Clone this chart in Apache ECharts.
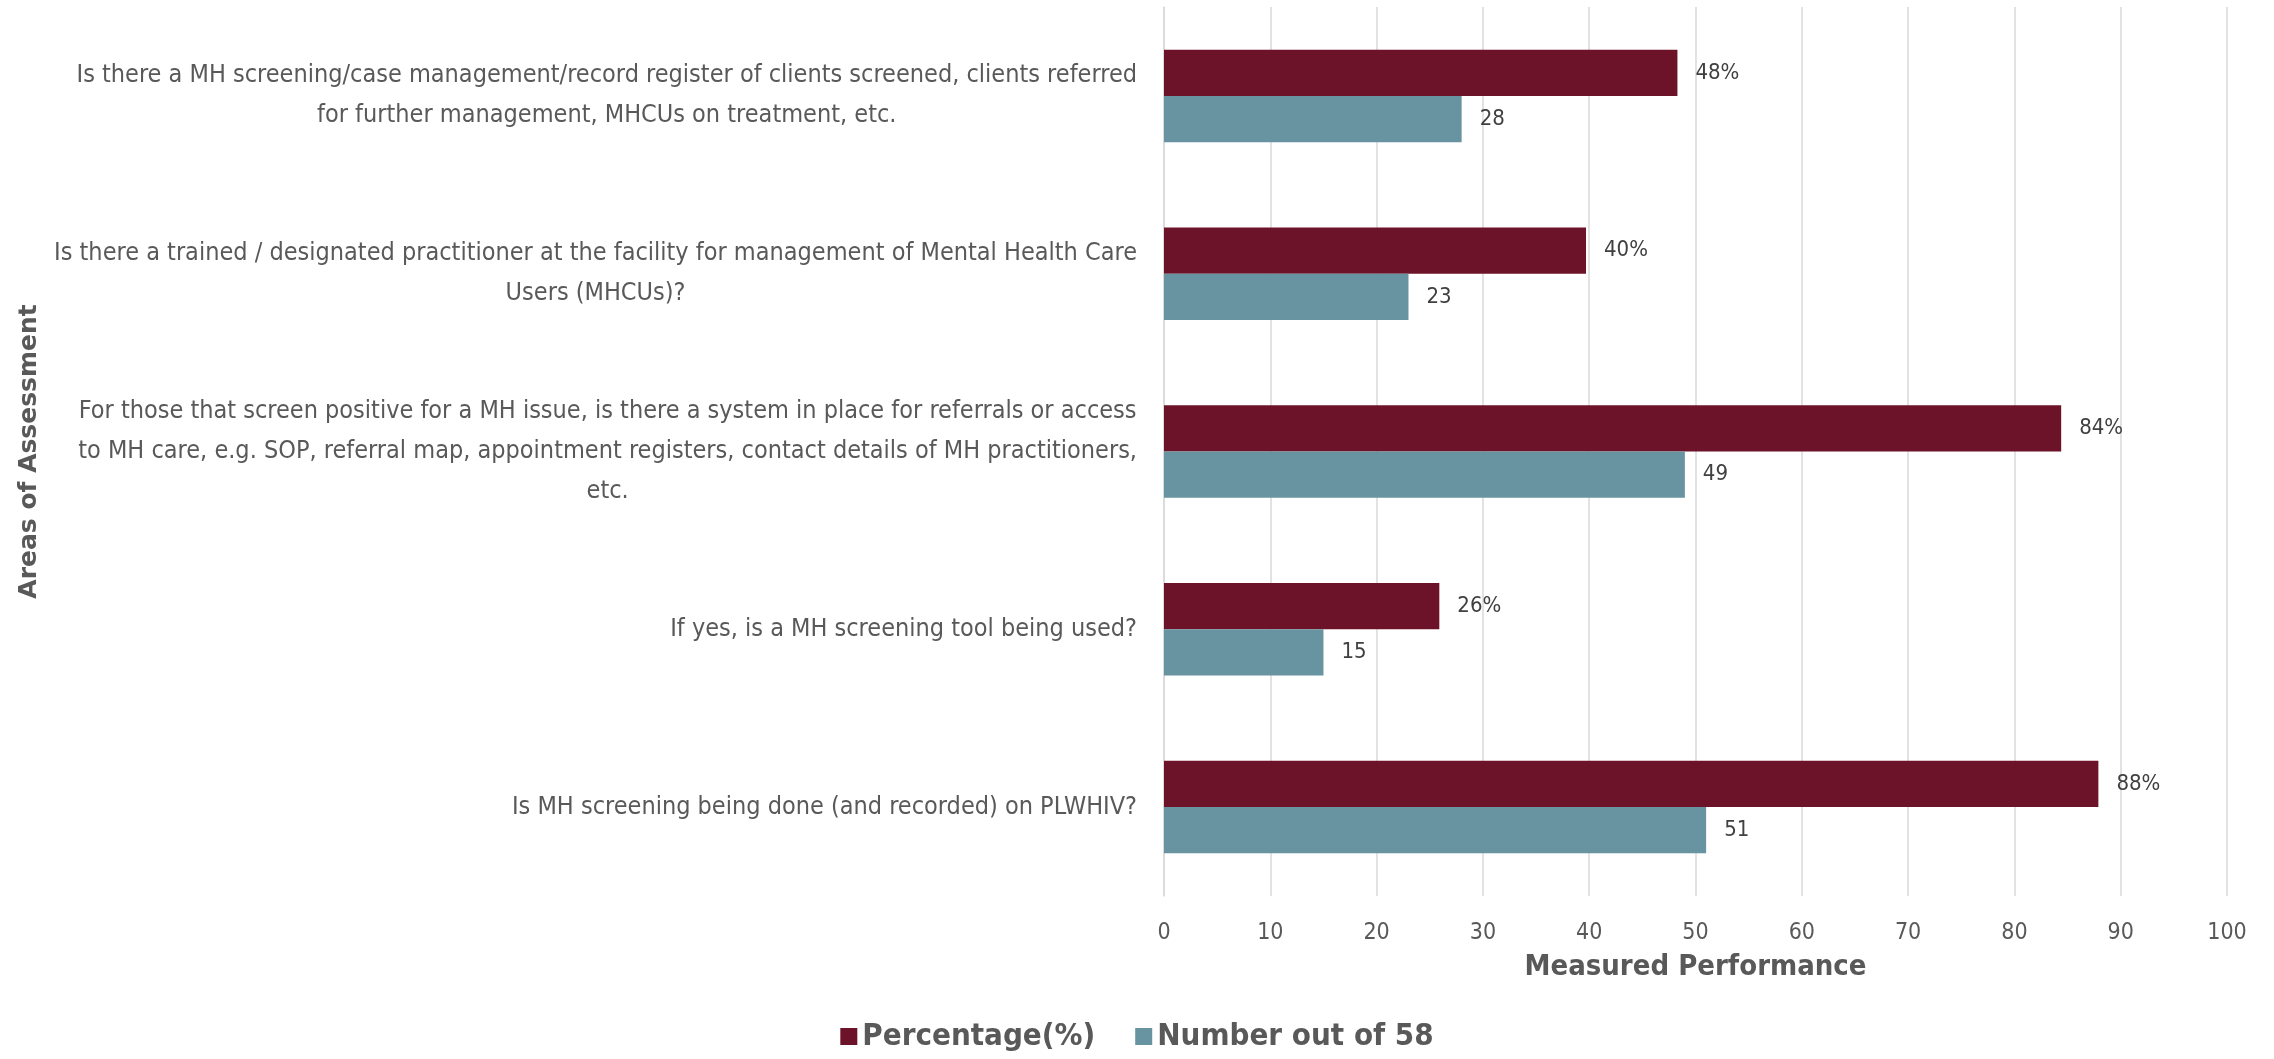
<!DOCTYPE html>
<html>
<head>
<meta charset="utf-8">
<script src="https://cdn.jsdelivr.net/npm/echarts@6/dist/echarts.min.js"></script>
<style>
html,body{margin:0;padding:0;background:#fff;}
#chart{width:2274px;height:1059px;}
</style>
</head>
<body>
<div id="chart"></div>
<script>
const categories = [
  "Is there a MH screening/case management/record register of clients screened, clients referred\nfor further management, MHCUs on treatment, etc.",
  "Is there a trained / designated practitioner at the facility for management of Mental Health Care\nUsers (MHCUs)?",
  "For those that screen positive for a MH issue, is there a system in place for referrals or access\nto MH care, e.g. SOP, referral map, appointment registers, contact details of MH practitioners,\netc.",
  "If yes, is a MH screening tool being used?",
  "Is MH screening being done (and recorded) on PLWHIV?"
];
const percentValues = [48.3, 39.7, 84.4, 25.9, 87.9];
const numberValues = [28, 23, 49, 15, 51];
const xTicks = [0, 100, 10];
const seriesNames = ["Percentage(%)", "Number out of 58"];

const FONT = "'Liberation Sans Narrow', 'DejaVu Sans Condensed', sans-serif";
const TXT = '#595959';

const chart = echarts.init(document.getElementById('chart'));
chart.setOption({
  animation: false,
  backgroundColor: '#fff',
  grid: { left: 1164, right: 47, top: 7, bottom: 163, containLabel: false },
  legend: {
    bottom: 2,
    left: 'center',
    itemWidth: 17,
    itemHeight: 17,
    itemGap: 40,
    icon: 'rect',
    textStyle: { fontFamily: FONT, fontWeight: 'bold', fontSize: 31, color: TXT },
    data: seriesNames
  },
  xAxis: {
    type: 'value',
    min: xTicks[0], max: xTicks[1], interval: xTicks[2],
    name: 'Measured Performance',
    nameLocation: 'middle',
    nameGap: 57,
    nameTextStyle: { fontFamily: FONT, fontWeight: 'bold', fontSize: 29, color: TXT },
    axisLine: { show: false },
    axisTick: { show: false },
    axisLabel: { fontFamily: FONT, fontSize: 23, color: TXT, margin: 26 },
    splitLine: { show: true, lineStyle: { color: '#d9d9d9', width: 1.5 } }
  },
  yAxis: {
    type: 'category',
    inverse: true,
    data: categories,
    name: 'Areas of Assessment',
    nameLocation: 'middle',
    nameGap: 1122,
    nameRotate: 90,
    nameTextStyle: { fontFamily: 'DejaVu Sans', fontWeight: 'bold', fontSize: 25, color: TXT },
    axisLine: { show: true, lineStyle: { color: '#d9d9d9', width: 1.5 } },
    axisTick: { show: false },
    axisLabel: {
      margin: 27,
      align: 'right',
      formatter: function (v) {
        return v.split('\n').map(function (l) { return '{c|' + l + '}'; }).join('\n');
      },
      rich: {
        c: { align: 'center', fontFamily: FONT, fontSize: 25, lineHeight: 40, color: TXT }
      }
    }
  },
  series: [
    {
      name: seriesNames[0],
      type: 'bar',
      data: percentValues,
      itemStyle: { color: '#6c1329' },
      barGap: '0%',
      barCategoryGap: '48%',
      label: {
        show: true, position: 'right', distance: 18,
        fontFamily: FONT, fontSize: 22, color: '#404040',
        formatter: function (p) { return Math.round(p.value) + '%'; }
      }
    },
    {
      name: seriesNames[1],
      type: 'bar',
      data: numberValues,
      itemStyle: { color: '#6893a0' },
      barGap: '0%',
      barCategoryGap: '48%',
      label: {
        show: true, position: 'right', distance: 18,
        fontFamily: FONT, fontSize: 22, color: '#404040'
      }
    }
  ]
});
</script>
</body>
</html>
